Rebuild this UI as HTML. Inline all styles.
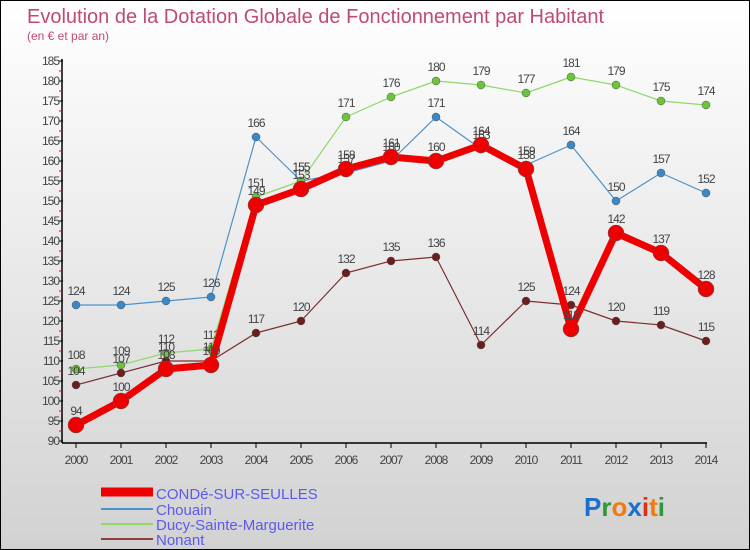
<!DOCTYPE html>
<html><head><meta charset="utf-8"><style>
body{margin:0}
#wrap{position:relative;width:748px;height:548px;border:1px solid #000;background:linear-gradient(#fff,#d2d2d2);overflow:hidden;font-family:"Liberation Sans",sans-serif}
</style></head><body>
<div id="wrap">
<svg id="svg" width="748" height="548" style="position:absolute;left:0;top:0">
<text x="26" y="22" font-size="20" fill="#c04a72">Evolution de la Dotation Globale de Fonctionnement par Habitant</text>
<text x="26" y="39" font-size="12" fill="#c04a72">(en € et par an)</text>
<g id="axes"></g>
<g id="series"></g>
<g>
<line x1="100" y1="491" x2="152" y2="491" stroke="#e00" stroke-width="9"/>
<text x="155" y="498" font-size="15" fill="#5a5af0">CONDé-SUR-SEULLES</text>
<line x1="100" y1="508" x2="152" y2="508" stroke="#4b92cc" stroke-width="2"/>
<text x="155" y="514" font-size="15" fill="#5a5af0">Chouain</text>
<line x1="100" y1="523" x2="152" y2="523" stroke="#8fd86a" stroke-width="2"/>
<text x="155" y="529" font-size="15" fill="#5a5af0">Ducy-Sainte-Marguerite</text>
<line x1="100" y1="538" x2="152" y2="538" stroke="#8b4040" stroke-width="2"/>
<text x="155" y="544" font-size="15" fill="#5a5af0">Nonant</text>
</g>
<text x="583" y="515" font-size="26" font-weight="bold"><tspan fill="#1a6fd0">P</tspan><tspan fill="#2a9a3a">r</tspan><tspan fill="#f07a10">o</tspan><tspan fill="#1a6fd0">x</tspan><tspan fill="#e03010">i</tspan><tspan fill="#f07a10">t</tspan><tspan fill="#2a9a3a">i</tspan></text>
</svg>
</div>
<script>
const years=[2000,2001,2002,2003,2004,2005,2006,2007,2008,2009,2010,2011,2012,2013,2014];
const conde=[94,100,108,109,149,153,158,161,160,164,158,118,142,137,128];
const chouain=[124,124,125,126,166,155,157,160,171,163,159,164,150,157,152];
const ducy=[108,109,112,113,151,155,171,176,180,179,177,181,179,175,174];
const nonant=[104,107,110,110,117,120,132,135,136,114,125,124,120,119,115];
const yTicks=[90,95,100,105,110,115,120,125,130,135,140,145,150,155,160,165,170,175,180,185];
const NS="http://www.w3.org/2000/svg";
function xs(i){return 75+i*45;}
function ys(v){return 440-(v-90)*4;}
function mk(t,a,p){const e=document.createElementNS(NS,t);for(const k in a)e.setAttribute(k,a[k]);p.appendChild(e);return e;}
const ax=document.getElementById('axes');
let l=mk('line',{x1:61,y1:58,x2:61,y2:442,stroke:'#000','stroke-width':1.5},ax);


l=mk('line',{x1:61,y1:442,x2:706,y2:442,stroke:'#000','stroke-width':1.5},ax);


yTicks.forEach(v=>{
 mk('line',{x1:58,y1:ys(v),x2:62,y2:ys(v),stroke:'#000'},ax);
 if(v<185)mk('line',{x1:58,y1:ys(v+2.5),x2:61,y2:ys(v+2.5),stroke:'#e00'},ax);
 const t=mk('text',{x:58,y:ys(v)+4,'font-size':12,fill:'#444','text-anchor':'end','letter-spacing':'-1'},ax);
 t.textContent=v;
 
 
});
years.forEach((y,i)=>{
 mk('line',{x1:xs(i),y1:442,x2:xs(i),y2:447,stroke:'#000'},ax);
 const t=mk('text',{x:xs(i),y:463,'font-size':12,fill:'#444','text-anchor':'middle','letter-spacing':'-1'},ax);
 t.textContent=y;
 
 
});
const sg=document.getElementById('series');
function series(data,color,w,r,name,dot){
 const g=mk('g',{},sg);
 
 
 const p=mk('polyline',{points:data.map((v,i)=>xs(i)+','+ys(v)).join(' '),fill:'none',stroke:color,'stroke-width':w,'stroke-linejoin':'round'},g);
 
 
 data.forEach((v,i)=>{
  const c=mk('circle',{cx:xs(i),cy:ys(v),r:r,fill:dot,stroke:'#555','stroke-width':0.5},g);
  
  
  const t=mk('text',{x:xs(i),y:ys(v)-10,'font-size':12,fill:'#444','text-anchor':'middle','letter-spacing':'-1'},g);
  t.textContent=v;
  
  
 });
}
series(chouain,'#4b92cc',1.2,4,'chouain-series','#3a88c8');
series(ducy,'#8fd86a',1.2,4,'ducy-series','#6cc43a');
series(nonant,'#7a3030',1.2,4,'nonant-series','#6a1e1e');
series(conde,'#e00',7,8,'conde-series','#e00');
</script>
</body></html>
